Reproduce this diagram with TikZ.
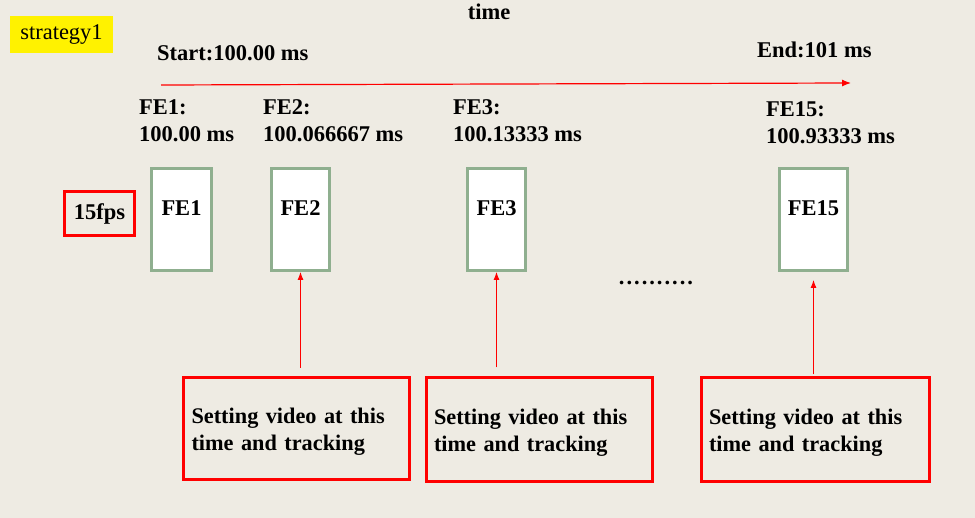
\documentclass[tikz,border=0pt]{standalone}
\usepackage{fontspec}
\setmainfont{Liberation Serif}
\usetikzlibrary{positioning,arrows.meta}
\definecolor{paper}{RGB}{238,235,227}
\definecolor{framegreen}{RGB}{143,175,143}

\begin{document}
\begin{tikzpicture}[x=1pt,y=-1pt]
      \tikzstyle{lbl}=[inner sep=0pt,align=left,font=\bfseries\fontsize{22.5}{27}\selectfont]
      \tikzstyle{febox}=[rectangle,draw=framegreen,line width=3pt,fill=white,minimum height=102pt,inner sep=0pt,text height=15pt,text depth=23pt,font=\bfseries\fontsize{22.5}{27}\selectfont]
      \tikzstyle{redbox}=[rectangle,draw=red,line width=3pt,inner xsep=8pt,align=left,execute at begin node={\rule{0pt}{21.5pt}},font=\bfseries\fontsize{22.3}{27}\selectfont]
      \tikzstyle{up}=[-{Latex[length=8pt,width=6pt]},red,line width=0.9pt]
      \fill[paper] (0,0) rectangle (975,518);
      \useasboundingbox (0,0) rectangle (975,518);
      % title and tag
      \node[fill=yellow,minimum width=103pt,minimum height=37pt,font=\fontsize{22.5}{27}\selectfont] (strat) at (61.5,34.5) {strategy1};
      \node[lbl] (time) at (489,12) {time};
      % time line
      \node[lbl,anchor=west] (start) at (157,53) {Start:100.00 ms};
      \node[lbl,anchor=west] (end) at (757,50) {End:101 ms};
      \coordinate (t0) at (161,85);
      \coordinate (t1) at (851,83);
      \draw[-{Latex[length=9pt,width=7pt]},red,line width=1.2pt] (t0) -- (t1);
      % frame times
      \node[lbl,anchor=west] (fe1t) at (139,120.5) {FE1:\\100.00 ms};
      \node[lbl,anchor=west] (fe2t) at (263,120.5) {FE2:\\100.066667 ms};
      \node[lbl,anchor=west] (fe3t) at (453,120.5) {FE3:\\100.13333 ms};
      \node[lbl,anchor=west] (fe15t) at (766,122.5) {FE15:\\100.93333 ms};
      % frames
      \node[rectangle,draw=red,line width=3pt,minimum width=70pt,minimum height=44pt,font=\bfseries\fontsize{22.5}{27}\selectfont] (fps) at (99.5,213.5) {15fps};
      \node[febox,minimum width=60pt] (fe1) at (181.5,219.5) {FE1};
      \node[febox,minimum width=58pt] (fe2) at (300.5,219.5) {FE2};
      \node[febox,minimum width=58pt] (fe3) at (496.5,219.5) {FE3};
      \node[febox,minimum width=68pt] (fe15) at (813.5,219.5) {FE15};
      \node[inner sep=0pt,font=\bfseries\fontsize{22.5}{27}\selectfont] (dots) at (656,283) {\foreach \d in {1,...,10}{\makebox[7.6pt]{.}}};
      % settings
      \node[redbox,minimum width=226pt,minimum height=102pt,text width=210pt] (set1) at (296.5,428.5) {Setting video at this\\time and tracking};
      \node[redbox,minimum width=226pt,minimum height=104pt,text width=210pt] (set2) at (539,430) {Setting video at this\\time and tracking};
      \node[redbox,minimum width=228pt,minimum height=104pt,text width=212pt] (set3) at (815,430) {Setting video at this\\time and tracking};
      \draw[up,shorten <=8pt] (set1.north -| fe2.south) -- (fe2.south);
      \draw[up,shorten <=9pt] (set2.north -| fe3.south) -- (fe3.south);
      \draw[up,shorten <=2pt,shorten >=8pt] (set3.north -| fe15.south) -- (fe15.south);
\end{tikzpicture}
\end{document}
